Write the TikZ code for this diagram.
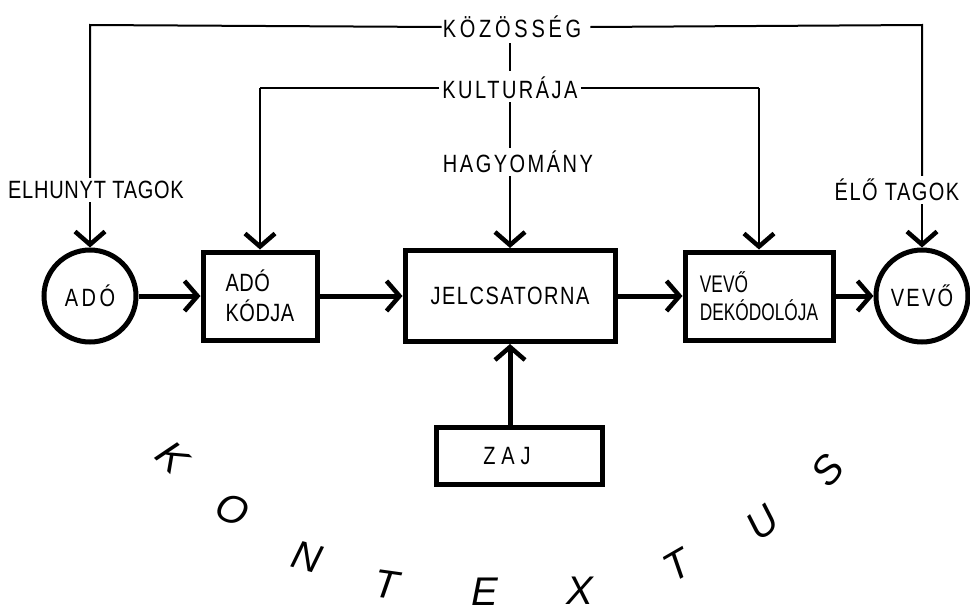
\documentclass[tikz,border=0pt]{standalone}
\usepackage{fontspec}
\setmainfont{Liberation Sans}
\newfontfamily\lab[FakeStretch=0.8]{Liberation Sans}
\newfontfamily\labn[FakeStretch=0.72]{Liberation Sans}
\usetikzlibrary{arrows.meta}
\begin{document}
\begin{tikzpicture}[x=1pt,y=-1pt,
  lbl/.style={font=\lab\fontsize{25}{27}\selectfont\addfontfeature{LetterSpace=#1}, inner sep=3pt},
  lbl/.default=10,
  thinln/.style={line width=2pt},
  thickln/.style={line width=5pt},
  arr/.style={-{Straight Barb[length=13pt,width=30pt,line width=4.5pt]}},
  boxn/.style={draw, rectangle, line width=5pt, inner sep=0pt, align=left,
    font=\lab\fontsize{25}{30}\selectfont\addfontfeature{LetterSpace=#1}},
  boxn/.default=2,
  circn/.style={draw, circle, line width=5pt, minimum size=92pt, inner sep=0pt,
    font=\lab\fontsize{25}{27}\selectfont\addfontfeature{LetterSpace=#1}},
  bigl/.style={font=\fontsize{40}{42}\selectfont\itshape, inner sep=0pt}
]
\fill[white] (0,0) rectangle (970,616);
\useasboundingbox (0,0) rectangle (970,616);

% labels
\node[lbl=15, inner sep=1pt] (koz) at (512,27) {KÖZÖSSÉG};
\node[lbl] (kul) at (510,88) {KULTURÁJA};
\node[lbl] (hagy) at (518,162) {HAGYOMÁNY};
\node[lbl=3] (elh) at (96,190) {ELHUNYT TAGOK};
\node[lbl=6] (elo) at (897,190) {ÉLŐ TAGOK};

% main chain
\node[circn=14] (ado) at (90,296) {ADÓ};
\node[boxn, minimum width=114pt, minimum height=88pt] (kod) at (260,296) {ADÓ\\KÓDJA};
\node[boxn=6, minimum width=210pt, minimum height=91pt] (jel) at (510,296) {JELCSATORNA};
\node[draw, rectangle, line width=5pt, inner sep=0pt, align=left,
  font=\labn\fontsize{24}{28}\selectfont, minimum width=148pt, minimum height=88pt] (dek) at (759,296) {VEVŐ\\DEKÓDOLÓJA};
\node[circn=9] (vevo) at (922,296) {VEVŐ};
\node[boxn=23, minimum width=166pt, minimum height=57pt] (zaj) at (519,456) {\hspace*{-24pt}ZAJ};

\coordinate (tl) at (90,25);
\coordinate (tr) at (922,25);
\coordinate (kl) at (260,88);
\coordinate (kr) at (759,88);

% thin context lines
\draw[thinln] (koz.west) -- (tl) -- (tl |- elh.north);
\draw[thinln, arr] (tl |- elh.south) -- (ado.north);
\draw[thinln] ([xshift=8pt]koz.east) -- (tr) -- (tr |- elo.north);
\draw[thinln, arr] (tr |- elo.south) -- (vevo.north);
\draw[thinln] (kul.west) -- (kl);
\draw[thinln, arr] (kl) -- (kod.north);
\draw[thinln] (kul.east) -- (kr);
\draw[thinln, arr] (kr) -- (dek.north);
\draw[thinln] ([yshift=3pt]kul.north -| jel.north) -- ([yshift=-4pt]koz.south -| jel.north);
\draw[thinln] (kul.south -| jel.north) -- (hagy.north -| jel.north);
\draw[thinln, arr] (hagy.south -| jel.north) -- (jel.north);

% thick arrows
\draw[thickln, arr] (ado) -- (kod);
\draw[thickln, arr] (kod) -- (jel);
\draw[thickln, arr] (jel) -- (dek);
\draw[thickln, arr] (dek) -- (vevo);
\draw[thickln, arr] (jel.south |- zaj.north) -- (jel.south);

% KONTEXTUS
\node[bigl, rotate=-45] (c1) at (173,457) {K};
\node[bigl, rotate=-25] (c2) at (232,510) {O};
\node[bigl, rotate=-15] (c3) at (307,557) {N};
\node[bigl, rotate=-8]  (c4) at (387,585) {T};
\node[bigl, rotate=0]   (c5) at (485,592) {E};
\node[bigl, rotate=0]   (c6) at (580,591) {X};
\node[bigl, rotate=30]  (c7) at (677,565) {T};
\node[bigl, rotate=38]  (c8) at (763,523) {U};
\node[bigl, rotate=50]  (c9) at (828,470) {S};
\end{tikzpicture}
\end{document}
